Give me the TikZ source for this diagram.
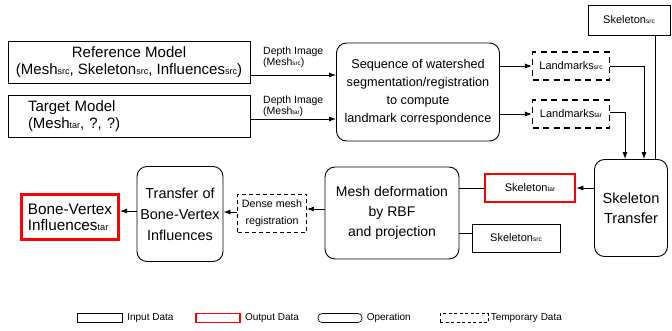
\documentclass[tikz,border=0pt]{standalone}
\usepackage{fontspec}
\setmainfont{Liberation Sans}
\usetikzlibrary{arrows.meta}
\newcommand{\sbs}[1]{\scalebox{0.6}{#1}}

\begin{document}
\begin{tikzpicture}[x=1pt,y=-1pt,inner sep=0pt,line width=0.9pt,
  indata/.style={rectangle,draw=black},
  outdata/.style={rectangle,draw=red,line width=3pt},
  oper/.style={rectangle,rounded corners=10pt,draw=black},
  tmpdata/.style={rectangle,draw=black,line width=1.1pt,dash pattern=on 6pt off 4.5pt},
  arr/.style={-{Latex[length=7pt,width=5pt]}}]
\useasboundingbox (0,0) rectangle (672,330);
%Node Coordinates
\node at (129,62) [indata,minimum width=242,minimum height=42,align=center,font=\fontsize{15}{17}\selectfont] (RefModel) {Reference Model\\(Mesh\sbs{src}, Skeleton\sbs{src}, Influences\sbs{src})};
\node at (129,116) [indata,minimum width=242,minimum height=42,text width=202,align=left,font=\fontsize{15}{17}\selectfont] (TarModel) {Target Model\\(Mesh\sbs{tar}, ?, ?)};
\node at (418,92) [oper,minimum width=163,minimum height=98,align=center,font=\fontsize{12.7}{18}\selectfont] (Seq) {Sequence of watershed\\segmentation/registration\\to compute\\landmark correspondence};
\node at (571,66) [tmpdata,minimum width=77,minimum height=28,font=\fontsize{11}{13}\selectfont] (LmSrc) {Landmarks\sbs{src}};
\node at (571,114) [tmpdata,minimum width=77,minimum height=28,font=\fontsize{11}{13}\selectfont] (LmTar) {Landmarks\sbs{tar}};
\node at (629,20) [indata,minimum width=82,minimum height=30,font=\fontsize{11}{13}\selectfont] (SkelSrcTop) {Skeleton\sbs{src}};
\node at (631,208) [oper,minimum width=73,minimum height=97,align=center,font=\fontsize{14.6}{20}\selectfont] (SkelTrans) {Skeleton\\Transfer};
\node at (530,188) [outdata,line width=2.5pt,minimum width=90,minimum height=28,font=\fontsize{11}{13}\selectfont] (SkelTar) {Skeleton\sbs{tar}};
\node at (516,238) [indata,minimum width=88,minimum height=28,font=\fontsize{11}{13}\selectfont] (SkelSrcLow) {Skeleton\sbs{src}};
\node at (392,213) [oper,minimum width=134,minimum height=92,align=center,font=\fontsize{14}{20}\selectfont] (MeshDef) {Mesh deformation\\by RBF\\and projection};
\node at (272,213) [tmpdata,line width=0.8pt,dash pattern=on 4pt off 3pt,minimum width=69,minimum height=38,align=center,font=\fontsize{10.7}{17}\selectfont] (DenseReg) {Dense mesh\\registration};
\node at (180,214) [oper,minimum width=86,minimum height=95,align=center,font=\fontsize{14.4}{21}\selectfont] (BoneTransfer) {Transfer of\\Bone-Vertex\\Influences};
\node at (70,217) [outdata,minimum width=97,minimum height=45,align=left,font=\fontsize{15.3}{16}\selectfont] (BoneOut) {Bone-Vertex\\Influences\sbs{tar}};

%Legend
\node at (100,318) [indata,line width=0.7pt,minimum width=45,minimum height=9] (KeyIn) {};
\node at (218,318) [outdata,line width=1.2pt,minimum width=44,minimum height=9] (KeyOut) {};
\node at (340,318) [oper,rounded corners=4pt,line width=0.7pt,minimum width=44,minimum height=9] (KeyOp) {};
\node at (464,318) [tmpdata,line width=0.6pt,dash pattern=on 3pt off 2.5pt,minimum width=48,minimum height=9] (KeyTmp) {};
\node [right,font=\fontsize{10}{11}\selectfont] at ([xshift=4pt]KeyIn.east) (KeyInText) {Input Data};
\node [right,font=\fontsize{10}{11}\selectfont] at ([xshift=4pt]KeyOut.east) (KeyOutText) {Output Data};
\node [right,font=\fontsize{10}{11}\selectfont] at ([xshift=4pt]KeyOp.east) (KeyOpText) {Operation};
\node [right,font=\fontsize{10}{11}\selectfont] at ([xshift=2pt]KeyTmp.east) (KeyTmpText) {Temporary Data};

%Connections
\draw [arr] ([yshift=-13pt]RefModel.east) -- ([yshift=-13pt]RefModel.east -| Seq.west) node [midway,above=7pt,align=left,font=\fontsize{10.5}{11}\selectfont] {Depth Image\\(Mesh\sbs{src})};
\draw [arr] ([yshift=-3pt]TarModel.east) -- ([yshift=-3pt]TarModel.east -| Seq.west) node [midway,above=2pt,align=left,font=\fontsize{10.5}{11}\selectfont] {Depth Image\\(Mesh\sbs{tar})};
\draw [arr] (Seq.east |- LmSrc) -- (LmSrc.west);
\draw [arr] (Seq.east |- LmTar) -- (LmTar.west);
\draw [arr] (LmSrc.east) -| ([xshift=13pt]SkelTrans.north);
\draw [arr] ([yshift=2pt]LmTar.east) -| ([xshift=-6pt]SkelTrans.north);
\draw ([xshift=26pt]SkelSrcTop.south) -- ([xshift=26pt]SkelSrcTop.south |- SkelTrans.north);
\draw [arr] (SkelTrans.west |- SkelTar) -- (SkelTar.east);
\draw (SkelTar.west) -- (SkelTar.west -| MeshDef.east);
\draw ([yshift=5pt]SkelSrcLow.west) -- ([yshift=5pt]SkelSrcLow.west -| MeshDef.east);
\draw [arr] ([yshift=4pt]MeshDef.west) -- ([yshift=4pt]MeshDef.west -| DenseReg.east);
\draw [arr] ([yshift=1pt]DenseReg.west) -- ([yshift=1pt]DenseReg.west -| BoneTransfer.east);
\draw [arr] ([yshift=3pt]BoneTransfer.west) -- ([yshift=3pt]BoneTransfer.west -| BoneOut.east);
\end{tikzpicture}
\end{document}
